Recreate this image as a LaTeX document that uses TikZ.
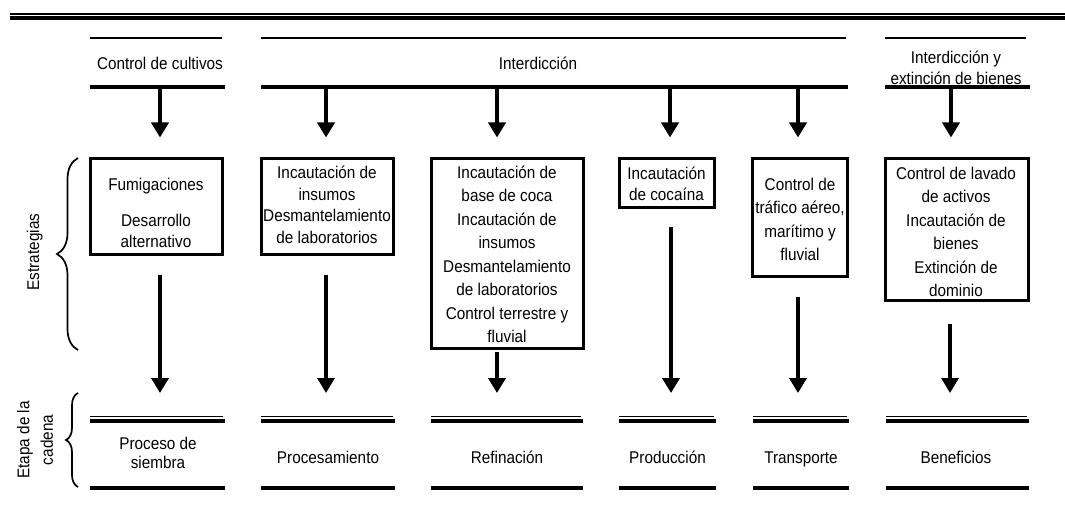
\documentclass[tikz,border=0pt]{standalone}
\usepackage{fontspec}
\setmainfont[FakeStretch=0.9]{Liberation Sans}
\usetikzlibrary{arrows.meta,decorations.pathreplacing}
\begin{document}
\begin{tikzpicture}[x=1pt,y=-1pt,
  every node/.style={font=\fontsize{17}{23.5}\selectfont, inner sep=0pt, align=center},
  one/.style={text height=12pt, text depth=4pt},
  box/.style={draw, line width=3pt, rectangle},
  arr/.style={line width=4.5pt, -{Triangle[width=17pt,length=15pt]}},
  thinrule/.style={line width=1.8pt},
  thickrule/.style={line width=3.5pt},
  brace/.style={line width=1.7pt, decorate, decoration={brace, amplitude=#1}}
]
\useasboundingbox (0,0) rectangle (1065,508);

% top page rule
\draw[thinrule] (10,14) -- (1065,14);
\draw[thickrule] (10,18) -- (1065,18);

% headers
\draw[thinrule] (90,38) -- (222,38);
\draw[thickrule] (90,87) -- (225,87);
\node[one] (h1) at (160,66) {Control de cultivos};
\draw[thinrule] (261,38) -- (846,38);
\draw[thickrule] (261,87) -- (848,87);
\node[one] (h2) at (538,66) {Interdicción};
\draw[thinrule] (885,38) -- (1026,38);
\draw[thickrule] (885,87) -- (1030,87);
\node (h3) at (956,67.5) {Interdicción y\\[-2.5pt]extinción de bienes};

% strategy boxes
\node[box, minimum width=132pt, minimum height=96pt] (b1) at (156,206) {};
\node[box, minimum width=132pt, minimum height=96pt] (b2) at (327,206) {};
\node[box, minimum width=152pt, minimum height=190pt] (b3) at (507,253) {};
\node[box, minimum width=95pt, minimum height=49pt] (b4) at (666.5,182.5) {};
\node[box, minimum width=95pt, minimum height=118pt] (b5) at (799.5,217) {};
\node[box, minimum width=143pt, minimum height=142pt] (b6) at (956.5,229) {};

\node[one] (t1a) at (156,186) {Fumigaciones};
\node (t1b) at (156,231) {Desarrollo\\[-2pt]alternativo};
\node (t2) at (327,205) {Incautación de\\[-2pt]insumos\\[-2pt]Desmantelamiento\\[-2pt]de laboratorios};
\node (t3) at (507,254.5) {Incautación de\\base de coca\\Incautación de\\insumos\\Desmantelamiento\\de laboratorios\\Control terrestre y\\fluvial};
\node (t4) at (666.5,184) {Incautación\\[-2pt]de cocaína};
\node (t5) at (800,219.5) {Control de\\tráfico aéreo,\\marítimo y\\fluvial};
\node (t6) at (956,232) {Control de lavado\\de activos\\Incautación de\\bienes\\Extinción de\\dominio};

% arrows from headers to boxes
\coordinate (a1) at (160,87);
\coordinate (a2) at (326,87);
\coordinate (a3) at (497,87);
\coordinate (a4) at (670,87);
\coordinate (a5) at (798,87);
\coordinate (a6) at (951,87);
\draw[arr, shorten >=19pt] (a1) -- (a1 |- b1.north);
\draw[arr, shorten >=19pt] (a2) -- (a2 |- b2.north);
\draw[arr, shorten >=19pt] (a3) -- (a3 |- b3.north);
\draw[arr, shorten >=19pt] (a4) -- (a4 |- b4.north);
\draw[arr, shorten >=19pt] (a5) -- (a5 |- b5.north);
\draw[arr, shorten >=19pt] (a6) -- (a6 |- b6.north);

% stages
\coordinate (stagetop) at (0,417);
\foreach \xa/\xb in {90/225, 261/395, 431/583, 619/716, 753/849, 886/1029}{
  \draw[thinrule] (\xa,416.5) -- (\xb-2,416.5);
  \draw[thickrule] (\xa,421) -- (\xb,421);
  \draw[thickrule] (\xa,488) -- (\xb,488);
}
\node (s1) at (158,453) {Proceso de\\[-4pt]siembra};
\node[one] (s2) at (328,459) {Procesamiento};
\node[one] (s3) at (507,459) {Refinación};
\node[one] (s4) at (667.5,459) {Producción};
\node[one] (s5) at (801,459) {Transporte};
\node[one] (s6) at (956,459) {Beneficios};

% arrows from boxes to stages
\coordinate (l1) at (160,275);
\coordinate (l2) at (326,275);
\coordinate (l3) at (497,352);
\coordinate (l4) at (671,227);
\coordinate (l5) at (798,297);
\coordinate (l6) at (950,324);
\draw[arr, shorten >=24pt] (l1) -- (l1 |- stagetop);
\draw[arr, line width=3.2pt, shorten >=24pt] (l2) -- (l2 |- stagetop);
\draw[arr, shorten >=24pt] (l3) -- (l3 |- stagetop);
\draw[arr, shorten >=24pt] (l4) -- (l4 |- stagetop);
\draw[arr, shorten >=24pt] (l5) -- (l5 |- stagetop);
\draw[arr, line width=3.2pt, shorten >=24pt] (l6) -- (l6 |- stagetop);

% braces and side labels
\coordinate (br1a) at (78,350);
\coordinate (br1b) at (78,158);
\coordinate (br2a) at (78,487);
\coordinate (br2b) at (78,393);
\draw[brace=21pt] (br1a) -- (br1b);
\draw[brace=12pt] (br2a) -- (br2b);
\node[rotate=90, one] (lab1) at (35,252) {Estrategias};
\node[rotate=90] (lab2) at (35,440) {Etapa de la\\cadena};
\end{tikzpicture}
\end{document}
